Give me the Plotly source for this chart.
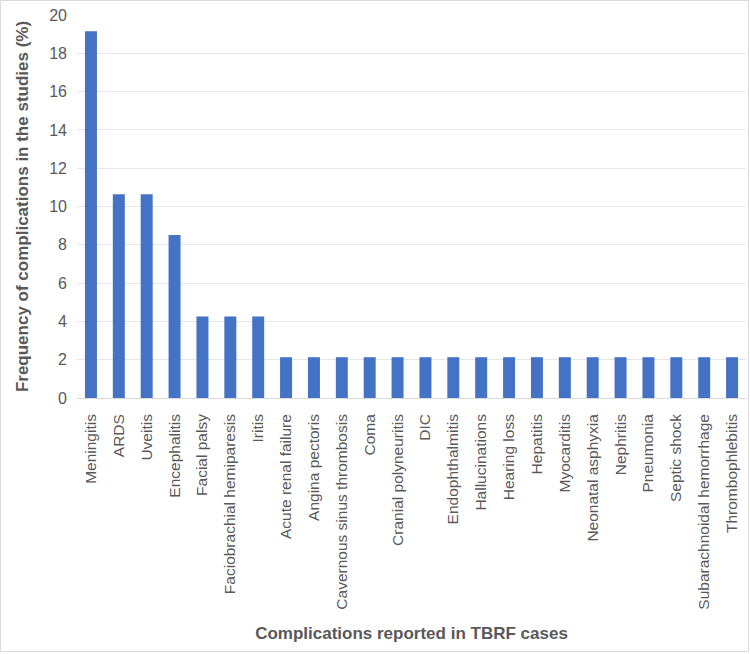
import plotly.graph_objects as go

complications = [
    "Meningitis", "ARDS", "Uveitis", "Encephalitis", "Facial palsy",
    "Faciobrachial hemiparesis", "Iritis", "Acute renal failure",
    "Angina pectoris", "Cavernous sinus thrombosis", "Coma",
    "Cranial polyneuritis", "DIC", "Endophthalmitis", "Hallucinations",
    "Hearing loss", "Hepatitis", "Myocarditis", "Neonatal asphyxia",
    "Nephritis", "Pneumonia", "Septic shock", "Subarachnoidal hemorrhage",
    "Thrombophlebitis",
]
frequency_pct = [
    19.15, 10.64, 10.64, 8.51, 4.26, 4.26, 4.26, 2.13,
    2.13, 2.13, 2.13, 2.13, 2.13, 2.13, 2.13,
    2.13, 2.13, 2.13, 2.13, 2.13, 2.13, 2.13, 2.13,
    2.13,
]

W, H = 750, 654
ml, mr, mt, mb = 77, 4, 15, 256

fig = go.Figure()
fig.add_trace(go.Bar(
    x=complications,
    y=frequency_pct,
    marker=dict(color="#4472c4", line=dict(width=0)),
    hoverinfo="x+y",
))

fig.update_layout(
    width=W,
    height=H,
    margin=dict(l=ml, r=mr, t=mt, b=mb, pad=0),
    paper_bgcolor="white",
    plot_bgcolor="white",
    bargap=0.57,
    showlegend=False,
    font=dict(family="Liberation Sans, Arial, sans-serif", color="#595959", size=16),
)

fig.update_xaxes(
    tickangle=-90,
    showgrid=False,
    showline=False,
    ticks="",
    tickfont=dict(size=15.5, color="#595959"),
    ticklabelstandoff=12,
    title=dict(
        text="<b>Complications reported in TBRF cases</b>",
        font=dict(size=17, color="#595959"),
        standoff=18,
    ),
    automargin=False,
)

fig.update_yaxes(
    range=[0, 20],
    dtick=2,
    showgrid=True,
    gridcolor="#e6e6e6",
    gridwidth=1,
    zeroline=True,
    zerolinecolor="#d9d9d9",
    zerolinewidth=1,
    ticks="",
    tickfont=dict(size=16, color="#595959"),
    ticklabelstandoff=9,
    title=dict(
        text="<b>Frequency of complications in the studies (%)</b>",
        font=dict(size=17, color="#595959"),
        standoff=16,
    ),
    automargin=False,
)

# thin light border round the whole chart area
pw = W - ml - mr
ph = H - mt - mb
fig.add_shape(
    type="rect", xref="paper", yref="paper",
    x0=(-ml + 0.5) / pw, x1=(pw + mr - 1.5) / pw,
    y0=(-mb + 2.5) / ph, y1=(ph + mt - 0.5) / ph,
    line=dict(color="#d9d9d9", width=1),
    layer="below",
)

fig.write_html(
    "out.html",
    config={"displayModeBar": False},
    post_script="document.body.style.margin='0';",
)
